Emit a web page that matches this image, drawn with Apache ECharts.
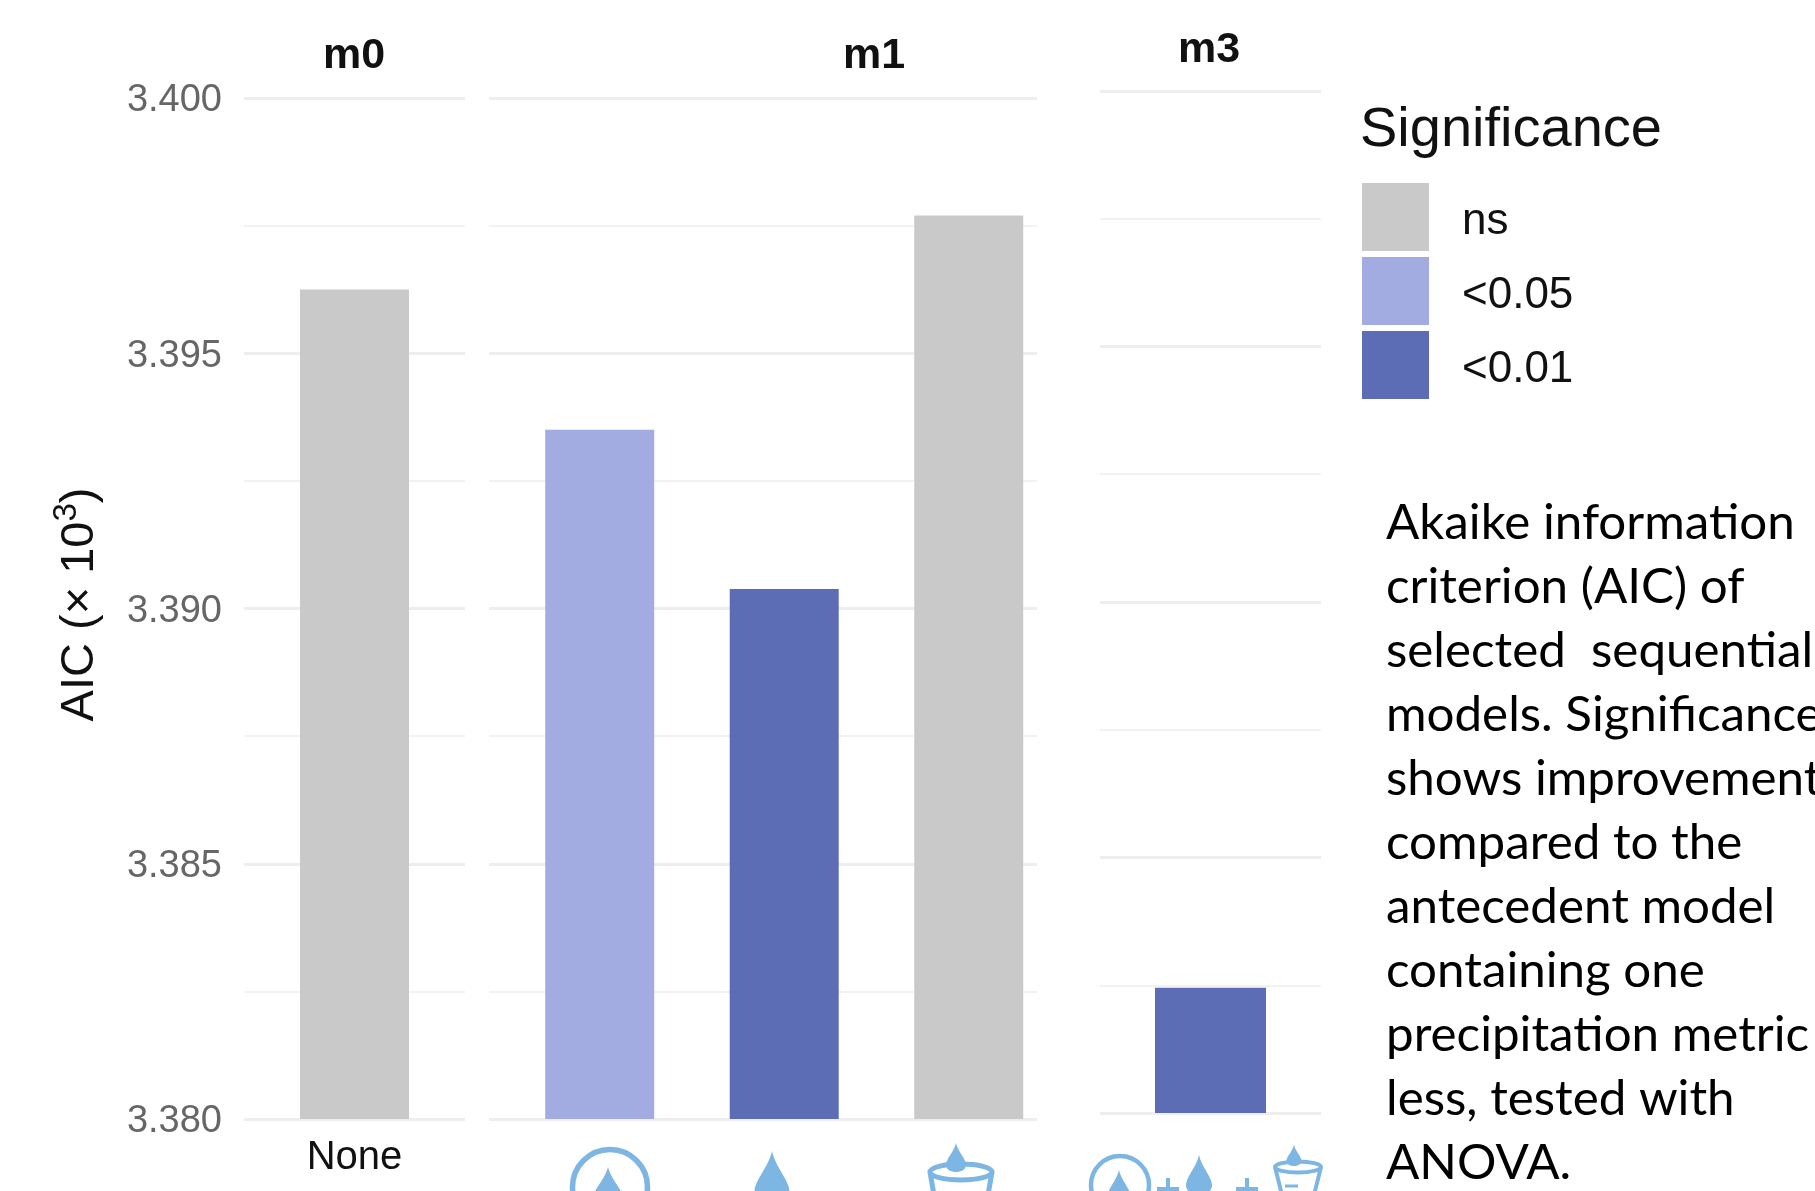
<!DOCTYPE html>
<html>
<head>
<meta charset="utf-8">
<title>AIC of sequential models</title>
<script src="https://cdn.jsdelivr.net/npm/echarts@6/dist/echarts.min.js"></script>
<style>
html,body{margin:0;padding:0;background:#fff;overflow:hidden}
#chart{width:1815px;height:1191px}
</style>
</head>
<body>
<div id="chart"></div>
<script>
var panelNames = ['m0', 'm1', 'm3']
var m0Values = [3.39625]
var m1Values = [3.3935, 3.39038, 3.3977]
var m3Values = [3.38245]
var m0Signif = ['ns']
var m1Signif = ['<0.05', '<0.01', 'ns']
var m3Signif = ['<0.01']
var xLabelsM0 = ['None']
var yTicks = [3.38, 3.385, 3.39, 3.395, 3.4]
var signifLevels = ['ns', '<0.05', '<0.01']
var signifColors = ['#c9c9c9', '#a3ace1', '#5c6db5']
var noteText = ['Akaike information', 'criterion (AIC) of', 'selected  sequential', 'models. Significance', 'shows improvement',
    'compared to the', 'antecedent model', 'containing one', 'precipitation metric', 'less, tested with', 'ANOVA.']

var FONT = '"Liberation Sans", Arial, sans-serif'
var ICON = '#7db6e3'

// left, width, top, bottom of each facet + x range (1 unit = one bar slot)
var panels = [
    { values: m0Values, signif: m0Signif, left: 244, width: 221, top: 98, bottom: 72, xMin: -0.6, xMax: 0.6, barW: 109, titleX: 349, titleY: 30 },
    { values: m1Values, signif: m1Signif, left: 489, width: 548, top: 98, bottom: 72, xMin: -0.6, xMax: 2.37, barW: 109, titleX: 869, titleY: 30 },
    { values: m3Values, signif: m3Signif, left: 1100, width: 221, top: 91, bottom: 78, xMin: -0.6, xMax: 0.6, barW: 111, titleX: 1204, titleY: 24 }
]

var grids = [], xAxes = [], yAxes = [], seriesList = [], titles = []
panels.forEach(function (p, i) {
    grids.push({ left: p.left, width: p.width, top: p.top, bottom: p.bottom })
    titles.push({
        text: panelNames[i], left: p.titleX, top: p.titleY, textAlign: 'center',
        textStyle: { fontFamily: FONT, fontSize: 43, fontWeight: 'bold', color: '#111' }
    })
    xAxes.push({
        type: 'value', gridIndex: i, min: p.xMin, max: p.xMax,
        axisLine: { show: false }, axisTick: { show: false }, splitLine: { show: false },
        axisLabel: i === 0 ? {
            customValues: [0], margin: 19, color: '#111', fontFamily: FONT, fontSize: 40,
            formatter: function () { return xLabelsM0[0] }
        } : { show: false }
    })
    yAxes.push({
        type: 'value', gridIndex: i, min: yTicks[0], max: yTicks[yTicks.length - 1], interval: 0.005,
        name: i === 0 ? 'AIC (× 10{sup|3})' : '', nameLocation: 'middle', nameGap: 134, nameRotate: 90,
        nameTextStyle: {
            fontFamily: FONT, fontSize: 47, color: '#111', padding: [0, 0, 0, 8],
            rich: { sup: { fontFamily: FONT, fontSize: 33, color: '#111', verticalAlign: 'top', padding: [0, 0, 27, 0] } }
        },
        axisLine: { show: false }, axisTick: { show: false },
        // labels sit a little under their gridline in the picture
        axisLabel: i === 0 ? {
            margin: 22, color: '#666', fontFamily: FONT, fontSize: 38, verticalAlign: 'top', lineHeight: 6,
            formatter: function (v) { return v.toFixed(3) }
        } : { show: false },
        splitLine: { show: true, lineStyle: { color: '#eeeeee', width: 3 } },
        minorTick: { show: false, splitNumber: 2 },
        minorSplitLine: { show: true, lineStyle: { color: '#f2f2f2', width: 2 } }
    })
    // one series per significance level so the legend picks them up
    signifLevels.forEach(function (level, k) {
        var pts = []
        p.values.forEach(function (v, j) {
            if (p.signif[j] === level) pts.push([j, v])
        })
        if (!pts.length) return
        seriesList.push({
            name: level, type: 'bar', xAxisIndex: i, yAxisIndex: i, data: pts,
            barWidth: p.barW, barGap: '-100%', itemStyle: { color: signifColors[k] }, silent: true
        })
    })
})

// the x labels in the picture are little icons, graphic has no droplet so register one
echarts.graphic.registerShape('droplet', echarts.graphic.extendShape({
    shape: { x: 0, y: 0, w: 10, h: 10 },
    buildPath: function (ctx, s) {
        var x = s.x, y = s.y, w = s.w, h = s.h
        ctx.moveTo(x, y)
        ctx.bezierCurveTo(x + w * 0.1, y + h * 0.3, x + w * 0.5, y + h * 0.55, x + w * 0.5, y + h * 0.75)
        ctx.bezierCurveTo(x + w * 0.5, y + h * 0.92, x + w * 0.25, y + h, x, y + h)
        ctx.bezierCurveTo(x - w * 0.25, y + h, x - w * 0.5, y + h * 0.92, x - w * 0.5, y + h * 0.75)
        ctx.bezierCurveTo(x - w * 0.5, y + h * 0.55, x - w * 0.1, y + h * 0.3, x, y)
        ctx.closePath()
    }
}))

function drop(x, y, w, h) {
    return { type: 'droplet', shape: { x: x, y: y, w: w, h: h }, style: { fill: ICON } }
}
function ring(cx, cy, r, lw) {
    return { type: 'circle', shape: { cx: cx, cy: cy, r: r }, style: { fill: 'none', stroke: ICON, lineWidth: lw } }
}
function stroke(x1, y1, x2, y2, lw) {
    return { type: 'line', shape: { x1: x1, y1: y1, x2: x2, y2: y2 }, style: { stroke: ICON, lineWidth: lw } }
}
function cup(cx, rimY, rx, ry, lw, taper) {
    return [
        stroke(cx - rx, rimY, cx - rx + taper, 1195, lw),
        stroke(cx + rx, rimY, cx + rx - taper, 1195, lw),
        { type: 'ellipse', shape: { cx: cx, cy: rimY, rx: rx, ry: ry }, style: { fill: '#fff', stroke: ICON, lineWidth: lw } }
    ]
}
function plus(x, y, s) {
    return [stroke(x - s, y, x + s, y, 4), stroke(x, y - s, x, y + s, 4)]
}

var icons = [
    ring(610, 1187, 37.5, 5.5), drop(608, 1167, 32, 44),
    drop(772, 1151, 35, 54)
].concat(cup(961, 1172, 31, 8, 5, 4), [
    drop(956, 1143, 20, 29),
    ring(1120, 1185, 29, 4.5), drop(1119, 1170, 24, 36)
], plus(1168, 1189, 11), [
    drop(1199, 1155, 26, 40)
], plus(1247, 1189, 11), cup(1298, 1167, 23, 5.5, 4, 7), [
    drop(1294, 1145, 15, 21),
    stroke(1285, 1186, 1298, 1186, 3)
])

var chart = echarts.init(document.getElementById('chart'), null, { renderer: 'canvas' })
chart.setOption({
    backgroundColor: '#ffffff',
    animation: false,
    title: titles,
    grid: grids,
    xAxis: xAxes,
    yAxis: yAxes,
    series: seriesList,
    legend: {
        data: signifLevels, orient: 'vertical', left: 1357, top: 178, selectedMode: false,
        icon: 'rect', itemWidth: 67, itemHeight: 68, itemGap: 6,
        formatter: '{t|{name}}',
        textStyle: {
            rich: { t: { fontFamily: FONT, fontSize: 44, color: '#111', padding: [9, 0, 0, 28] } }
        }
    },
    graphic: [
        { type: 'text', left: 1360, top: 103, style: { text: 'Significance', fontFamily: FONT, fontSize: 56, fill: '#111' } },
        { type: 'text', left: 1386, top: 491, style: { text: noteText.join('\n'), fontFamily: 'Lato, sans-serif', fontSize: 49.3, lineHeight: 64, fill: '#000' } },
        { type: 'group', left: 0, top: 0, bounding: 'raw', children: icons }
    ]
})
</script>
</body>
</html>
